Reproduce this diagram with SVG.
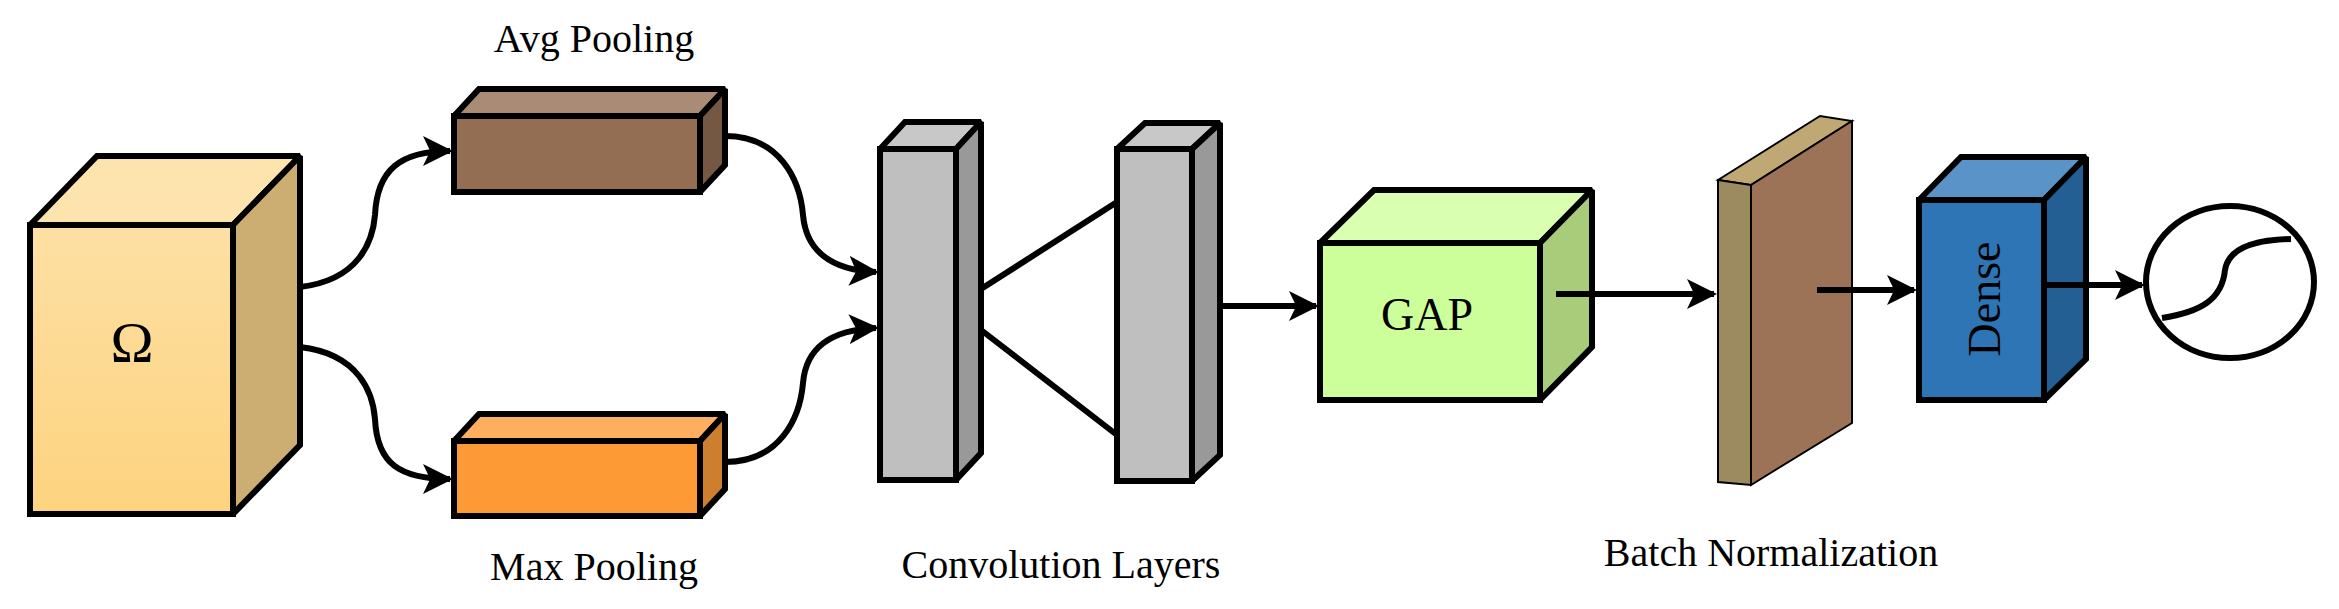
<svg xmlns="http://www.w3.org/2000/svg" width="2339" height="609" viewBox="0 0 2339 609">
<defs>
<style>
.s{stroke:#000;stroke-width:6;stroke-linejoin:miter;stroke-miterlimit:2}
.t{font-family:"Liberation Serif","Times New Roman",serif;fill:#000}
.c{fill:none;stroke:#000;stroke-width:6}
</style>
<marker id="ah" markerWidth="5" markerHeight="5" refX="4.5" refY="2.5" orient="auto" markerUnits="strokeWidth"><path d="M0,0 L5,2.5 L0,5 L1.2,2.5 z" fill="#000"/></marker>
<linearGradient id="og" x1="0" y1="0" x2="0" y2="1"><stop offset="0" stop-color="#fde0a4"/><stop offset="1" stop-color="#fdd37f"/></linearGradient>
</defs>
<rect width="2339" height="609" fill="#fff"/>
<g id="omega">
<polygon class="s" points="30,225 97,156 300,156 233,225" fill="#fde3ad"/>
<polygon class="s" points="233,225 300,156 300,445 233,514" fill="#cdae72"/>
<rect class="s" x="30" y="225" width="203" height="289" fill="url(#og)"/>
<text class="t" x="132" y="362" font-size="58" text-anchor="middle">Ω</text>
</g>
<g id="avgpool">
<polygon class="s" points="454,116 479,89 725,89 700,116" fill="#a98b76"/>
<polygon class="s" points="700,116 725,89 725,165 700,192" fill="#755844"/>
<rect class="s" x="454" y="116" width="246" height="76" fill="#946e52"/>
<text class="t" x="594" y="52" font-size="40" text-anchor="middle">Avg Pooling</text>
</g>
<g id="maxpool">
<polygon class="s" points="454,441 479,414 725,414 700,441" fill="#fdae5e"/>
<polygon class="s" points="700,441 725,414 725,489 700,516" fill="#cd7f2f"/>
<rect class="s" x="454" y="441" width="246" height="75" fill="#fd9a35"/>
<text class="t" x="594" y="580" font-size="40" text-anchor="middle">Max Pooling</text>
</g>
<g id="conv1">
<polygon class="s" points="880,149 905,122 981,122 956,149" fill="#c8c8c8"/>
<polygon class="s" points="956,149 981,122 981,453 956,480" fill="#999"/>
<rect class="s" x="880" y="149" width="76" height="331" fill="#bfbfbf"/>
</g>
<g id="conv2">
<polygon class="s" points="1117,149 1145,123 1220,123 1192,149" fill="#c8c8c8"/>
<polygon class="s" points="1192,149 1220,123 1220,455 1192,481" fill="#999"/>
<rect class="s" x="1117" y="149" width="75" height="332" fill="#bfbfbf"/>
</g>
<text class="t" x="1061" y="578" font-size="40" text-anchor="middle">Convolution Layers</text>
<g id="gap">
<polygon class="s" points="1320,243 1374,190 1592,190 1540,243" fill="#d9ffb0"/>
<polygon class="s" points="1540,243 1592,190 1592,347 1540,400" fill="#a8cc7a"/>
<rect class="s" x="1320" y="243" width="220" height="157" fill="#ccff99"/>
<text class="t" x="1427" y="330" font-size="46" text-anchor="middle">GAP</text>
</g>
<g id="batchnorm">
<polygon points="1718,180 1820,116 1852,121 1751,185" fill="#bfa874" stroke="#000" stroke-width="2"/>
<polygon points="1751,185 1852,121 1852,423 1751,485" fill="#9c7356" stroke="#000" stroke-width="2"/>
<polygon points="1718,180 1751,185 1751,485 1718,482" fill="#9c8b5f" stroke="#000" stroke-width="2"/>
<text class="t" x="1771" y="566" font-size="40" text-anchor="middle">Batch Normalization</text>
</g>
<g id="dense">
<polygon class="s" points="1919,200 1961,157 2086,157 2044,200" fill="#5a93c8"/>
<polygon class="s" points="2044,200 2086,157 2086,359 2044,400" fill="#245f94"/>
<rect class="s" x="1919" y="200" width="125" height="200" fill="#2e75b6"/>
<text class="t" x="1984" y="299" font-size="46" text-anchor="middle" dominant-baseline="central" transform="rotate(-90 1984 299)">Dense</text>
</g>
<g id="sigmoid">
<ellipse cx="2230" cy="282" rx="84" ry="76" fill="none" stroke="#000" stroke-width="6"/>
<path class="c" d="M2162,318 C2200,312 2222,300 2225,270 C2228,250 2250,240 2291,239"/>
</g>
<g id="connectors">
<path class="c" marker-end="url(#ah)" d="M300,287 C360,280 373,240 375,215 C377,170 400,151 450,151"/>
<path class="c" marker-end="url(#ah)" d="M300,347 C360,354 373,394 375,419 C377,464 400,479 450,479"/>
<path class="c" marker-end="url(#ah)" d="M725,136 C780,136 800,180 803,215 C806,250 830,270 876,272"/>
<path class="c" marker-end="url(#ah)" d="M725,462 C780,462 800,418 803,383 C806,348 830,330 876,328"/>
<path class="c" d="M981,289 L1117,202 M981,330 L1117,435"/>
<path class="c" marker-end="url(#ah)" d="M1220,306 L1316,306"/>
<path class="c" marker-end="url(#ah)" d="M1556,294 L1714,294"/>
<path class="c" marker-end="url(#ah)" d="M1817,290 L1914,290"/>
<path class="c" marker-end="url(#ah)" d="M2044,285 L2142,285"/>
</g>
</svg>
